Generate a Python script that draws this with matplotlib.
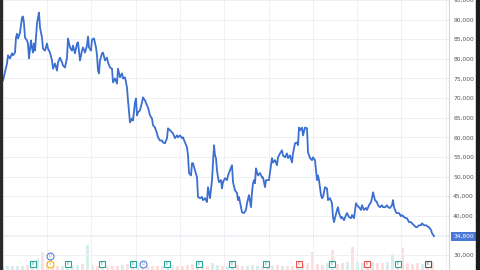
import numpy as np
import matplotlib
matplotlib.use("Agg")
import matplotlib.pyplot as plt
from matplotlib.patches import Rectangle

# daily closes (trading day index, price)
days = [0, 3, 7, 8, 10, 12, 13, 15, 16, 17, 18, 20, 22, 23, 24, 25, 27, 28, 29, 31,
        32, 33, 34, 35, 37, 38, 39, 40, 42, 43, 45, 47, 48, 50, 52, 53, 55, 57, 58, 60,
        62, 63, 65, 67, 68, 70, 72, 73, 75, 77, 78, 80, 82, 83, 85, 87, 88, 89, 91, 92,
        94, 96, 97, 98, 99,
        100, 102, 103, 105, 107, 108, 110, 112, 113, 115, 117, 118, 120, 122, 123, 125, 127, 128, 130, 132,
        133, 135, 136, 137, 138, 140, 142, 143, 145, 147, 148, 150, 152, 153, 155, 157, 158, 160, 162, 163,
        165, 167, 168, 170, 172, 173, 175, 177, 178, 180, 182, 183, 185, 187, 188, 189, 191, 192, 193, 195,
        197, 198,
        200, 202, 203, 205, 207, 208, 210, 212, 213, 214, 215, 216, 217, 218, 219, 221, 222, 223, 225, 227,
        228, 230, 232, 233, 235, 237, 238, 239, 241, 242, 244, 246, 247, 249, 251, 252, 253, 254, 255, 256,
        257, 258, 260, 262, 263, 265, 266, 267, 269, 270, 272, 273, 275, 277, 278, 280, 282, 283, 285, 287,
        288, 290, 292, 293, 295, 297, 298, 299,
        300, 302, 303, 305, 307, 308, 310, 312, 313, 315, 316, 317, 318, 319, 321, 322, 323, 325, 327, 328,
        330, 332, 333, 334, 335, 337, 338, 339, 341, 342, 344, 346, 347, 349, 351, 352, 354, 356, 357, 359,
        361, 362, 364, 366, 367, 369, 371, 372, 373, 375, 377, 378, 380, 382, 383, 385, 387, 388, 390, 392,
        393, 394, 396, 397, 399, 401, 402, 404, 406, 407, 409, 411, 412, 414, 416, 417, 419, 421, 422, 424,
        426, 427, 429, 431, 432, 434]
price = [76500, 74500, 78800, 80900, 80100, 81400, 80900, 81600, 85400, 86400, 85200, 86700, 90500, 90800, 89000, 85400, 84700, 83900, 80100, 84700,
         82900, 81600, 83900, 82100, 89000, 90500, 91800, 88000, 85400, 82600, 82100, 83900, 82600, 81600, 79600, 77500, 78800, 77000, 79100, 80300,
         79100, 78300, 77800, 80300, 85200, 82900, 82100, 83400, 81400, 83900, 84200, 79600, 82100, 82900, 81600, 83400, 85700, 82900, 82100, 84900,
         85200, 82900, 80900, 77000, 76300,
         79600, 81400, 81600, 79600, 80300, 79100, 77800, 77500, 74000, 75000, 73700, 77500, 75300, 76300, 75000, 75300, 72700, 69400, 63800, 64800,
         64300, 68900, 69900, 65600, 66400, 66900, 68900, 70200, 69400, 68100, 67600, 65600, 64800, 63100, 62500, 61000, 60000, 59200, 59200, 58700,
         58500, 59800, 62300, 61800, 61300, 61000, 59800, 60500, 60000, 60500, 59800, 60000, 58700, 57500, 55400, 50900, 50300, 53400, 53400, 51600,
         49800, 44800,
         44500, 44800, 44000, 44500, 43500, 47300, 44500, 49100, 53600, 58000, 55400, 54700, 51600, 49800, 48600, 49100, 47000, 48600, 49600, 49100,
         50300, 51600, 52900, 48600, 46500, 45800, 44000, 44800, 42200, 40900, 40700, 41500, 43200, 45300, 42200, 46000, 48300, 49100, 48300, 52100,
         51100, 50300, 50900, 49800, 49800, 47300, 49100, 49100, 49100, 51100, 54700, 53600, 54200, 52900, 54900, 55900, 56700, 55400, 54900, 55900,
         54700, 55400, 53600, 55900, 58500, 58700, 58000, 62500,
         61800, 62500, 60500, 62500, 62300, 56200, 54700, 54200, 54900, 54200, 51600, 49100, 50300, 49100, 45300, 44500, 44800, 47300, 47000, 44000,
         44500, 43200, 39700, 38400, 39400, 41500, 42200, 40700, 39400, 39700, 38900, 40200, 40700, 39700, 39400, 40200, 39400, 43200, 42700, 42200,
         41500, 42700, 41500, 42000, 41500, 42700, 43500, 44500, 46000, 44000, 43500, 42700, 42200, 42700, 42200, 42200, 42700, 42200, 42000, 42700,
         44000, 42200, 40900, 40700, 40700, 39900, 40200, 39700, 39400, 39400, 38400, 38400, 38100, 37600, 37100, 37100, 37600, 37600, 38100, 37600,
         37600, 37400, 37100, 36400, 35600, 34800]

# volume, one bar per 5 trading days (thousand shares)
volume = [400, 400, 500, 400, 500, 600, 800, 1200, 2000, 900, 600, 500, 500, 600, 500, 600, 700, 2800, 600, 500,
          500, 400, 500, 500, 600, 700, 600, 500, 500, 400, 500, 500, 400, 500, 600, 500, 500, 600, 700, 600,
          500, 500, 800, 600, 500, 400, 500, 600, 500, 500, 600, 500, 400, 500, 500, 600, 500, 400, 500, 600,
          700, 800, 2000, 700, 600, 800, 2200, 700, 800, 900, 2600, 900, 800, 700, 900, 800, 800, 900, 1800, 900,
          2400, 800, 700, 800, 700, 800, 900]
vol_days = 2 + 5 * np.arange(len(volume))

# corporate events along the bottom
event_days = [33, 50, 68, 102, 133, 143, 167, 199, 232, 266, 299, 332, 367, 398, 428]
event_kind = ["E+", "S", "E+", "E+", "E+", "D", "E+", "E+", "E+", "E+", "E-", "E+", "E-", "E+", "E0"]
extra_dividend_day = 50

last_price = price[-1]

fig = plt.figure(figsize=(4.8, 2.7), dpi=100)
fig.patch.set_facecolor("white")
ax = fig.add_axes([0, 0, 449 / 480, 1])
ax.set_xlim(0, 449)
ax.set_ylim(26200, 94830)

# volume overlay
axv = ax.twinx()
axv.set_ylim(0, 30000)
pv = np.interp(vol_days, days, price)
prev = np.interp(vol_days - 5, days, price)
vcol = ["#26a69a" if a >= b else "#ef5350" for a, b in zip(pv, prev)]
axv.bar(vol_days, volume, width=3.0, color=vcol, alpha=0.18, linewidth=0)
axv.set_axis_off()

ax.set_zorder(axv.get_zorder() + 1)
ax.patch.set_visible(False)

# grid
for g in 47 + 44.3 * np.arange(10):
    ax.axvline(g, color="#eef0f4", lw=0.7, zorder=0)
for yv in range(30000, 95001, 5000):
    ax.axhline(yv, color="#eef0f4", lw=0.7, zorder=0)

ax.plot(days, price, color="#3b6fd1", lw=1.3, solid_joinstyle="round", zorder=3)
ax.axhline(last_price, color="#c9d3e6", lw=0.5, ls=(0, (1, 1.5)), zorder=1)

# event markers
tr = ax.get_xaxis_transform()
kind_color = {"E+": "#26a69a", "E-": "#ef5350", "E0": "#555555", "D": "#5b7fde", "S": "#f4b400"}
kind_text = {"E+": "E", "E-": "E", "E0": "E", "D": "D", "S": "S"}
for d, k in zip(event_days, event_kind):
    m = "o" if k in ("D", "S") else "s"
    ax.plot(d, 0.022, marker=m, ms=5, mfc="white", mec=kind_color[k], mew=0.8,
            transform=tr, clip_on=False, zorder=5)
    ax.text(d, 0.022, kind_text[k], transform=tr, fontsize=2.5, color=kind_color[k],
            ha="center", va="center", zorder=6)
ax.plot(extra_dividend_day, 0.052, marker="o", ms=5, mfc="white", mec="#5b7fde", mew=0.8,
        transform=tr, clip_on=False, zorder=5)
ax.text(extra_dividend_day, 0.052, "D", transform=tr, fontsize=2.5, color="#5b7fde",
        ha="center", va="center", zorder=6)

# right price scale (top label is clipped by the window, as in the source)
ax.yaxis.tick_right()
ax.set_yticks(range(30000, 95001, 5000))
ax.set_yticklabels([f"{v:,}" for v in range(30000, 95001, 5000)], fontsize=4.3, color="#555555")
ax.tick_params(axis="y", length=0, pad=3)
ax.set_xticks([])
for s in ["top", "bottom", "left"]:
    ax.spines[s].set_visible(False)
ax.spines["right"].set_color("#d6d6d6")
ax.spines["right"].set_linewidth(0.8)

ax.annotate(f"{last_price:,}", xy=(1, last_price), xycoords=("axes fraction", "data"),
            xytext=(3, 0), textcoords="offset points", ha="left", va="center",
            fontsize=4.3, color="white",
            bbox=dict(boxstyle="square,pad=0.35", fc="#4a78d8", ec="none"), zorder=10)

# dark window edges
fig.add_artist(Rectangle((476 / 480, 0), 4 / 480, 1, transform=fig.transFigure,
                         color="#1b1b1b", zorder=20))
fig.add_artist(Rectangle((0, 0), 1.5 / 480, 1, transform=fig.transFigure,
                         color="#2a2a2a", zorder=20))

fig.savefig("out.png", dpi=100)
